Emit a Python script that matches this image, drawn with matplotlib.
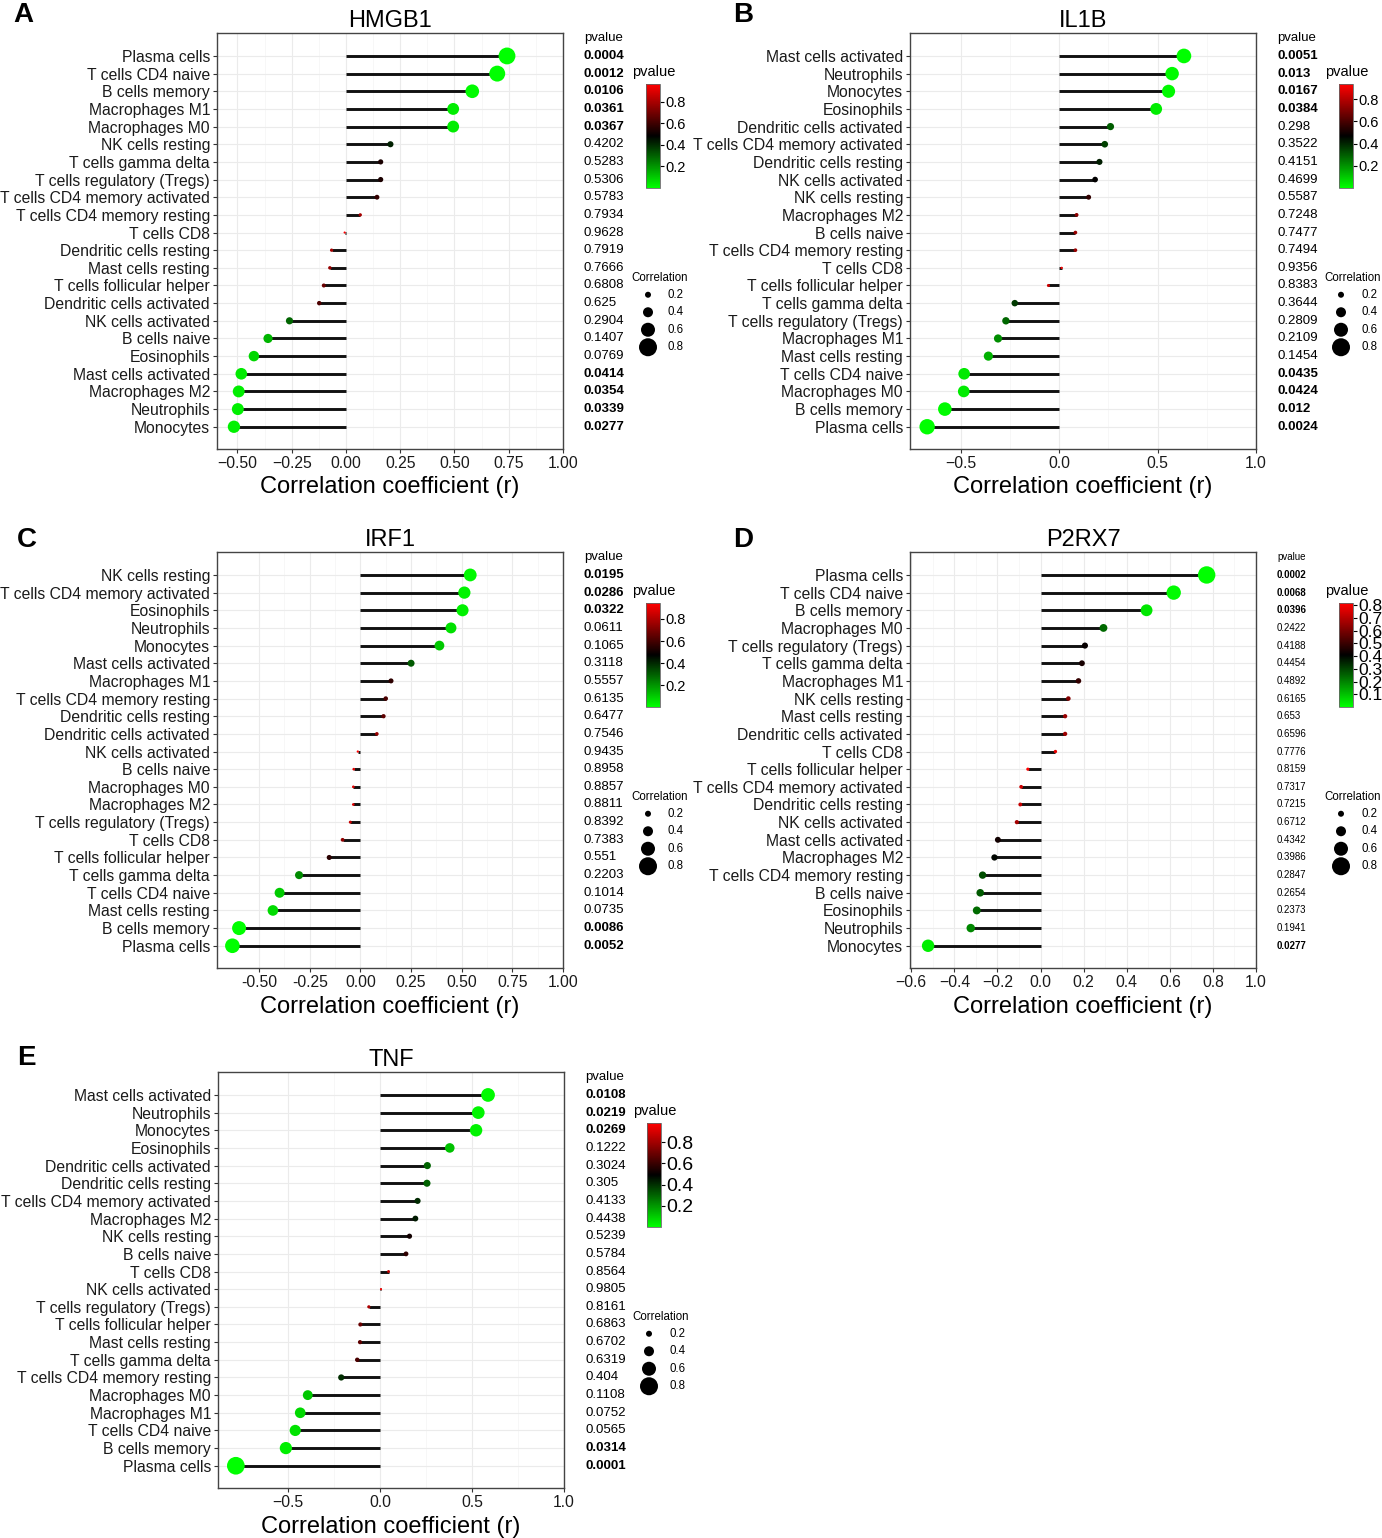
import numpy as np
import matplotlib
matplotlib.use("Agg")
import matplotlib.pyplot as plt
from matplotlib.colors import LinearSegmentedColormap, Normalize
from matplotlib.cm import ScalarMappable
from matplotlib.transforms import blended_transform_factory

plt.rcParams['font.family'] = ['Liberation Sans', 'DejaVu Sans']

# ---- data (top row first) ----
cats_a = ["Plasma cells", "T cells CD4 naive", "B cells memory", "Macrophages M1", "Macrophages M0",
          "NK cells resting", "T cells gamma delta", "T cells regulatory (Tregs)",
          "T cells CD4 memory activated", "T cells CD4 memory resting", "T cells CD8",
          "Dendritic cells resting", "Mast cells resting", "T cells follicular helper",
          "Dendritic cells activated", "NK cells activated", "B cells naive", "Eosinophils",
          "Mast cells activated", "Macrophages M2", "Neutrophils", "Monocytes"]
r_a = [0.742, 0.697, 0.582, 0.494, 0.494, 0.205, 0.160, 0.160, 0.143, 0.066, -0.006,
       -0.066, -0.074, -0.102, -0.123, -0.260, -0.359, -0.424, -0.482, -0.494, -0.498, -0.516]
p_a = ["0.0004", "0.0012", "0.0106", "0.0361", "0.0367", "0.4202", "0.5283", "0.5306", "0.5783",
       "0.7934", "0.9628", "0.7919", "0.7666", "0.6808", "0.625", "0.2904", "0.1407", "0.0769",
       "0.0414", "0.0354", "0.0339", "0.0277"]

cats_b = ["Mast cells activated", "Neutrophils", "Monocytes", "Eosinophils", "Dendritic cells activated",
          "T cells CD4 memory activated", "Dendritic cells resting", "NK cells activated",
          "NK cells resting", "Macrophages M2", "B cells naive", "T cells CD4 memory resting",
          "T cells CD8", "T cells follicular helper", "T cells gamma delta", "T cells regulatory (Tregs)",
          "Macrophages M1", "Mast cells resting", "T cells CD4 naive", "Macrophages M0",
          "B cells memory", "Plasma cells"]
r_b = [0.634, 0.574, 0.556, 0.493, 0.261, 0.232, 0.205, 0.183, 0.150, 0.089, 0.083, 0.083, 0.013,
       -0.054, -0.225, -0.270, -0.310, -0.359, -0.482, -0.484, -0.580, -0.670]
p_b = ["0.0051", "0.013", "0.0167", "0.0384", "0.298", "0.3522", "0.4151", "0.4699", "0.5587",
       "0.7248", "0.7477", "0.7494", "0.9356", "0.8383", "0.3644", "0.2809", "0.2109", "0.1454",
       "0.0435", "0.0424", "0.012", "0.0024"]

cats_c = ["NK cells resting", "T cells CD4 memory activated", "Eosinophils", "Neutrophils", "Monocytes",
          "Mast cells activated", "Macrophages M1", "T cells CD4 memory resting",
          "Dendritic cells resting", "Dendritic cells activated", "NK cells activated", "B cells naive",
          "Macrophages M0", "Macrophages M2", "T cells regulatory (Tregs)", "T cells CD8",
          "T cells follicular helper", "T cells gamma delta", "T cells CD4 naive",
          "Mast cells resting", "B cells memory", "Plasma cells"]
r_c = [0.542, 0.513, 0.504, 0.447, 0.390, 0.250, 0.151, 0.125, 0.114, 0.081, -0.013, -0.033,
       -0.035, -0.035, -0.050, -0.088, -0.154, -0.303, -0.399, -0.432, -0.599, -0.632]
p_c = ["0.0195", "0.0286", "0.0322", "0.0611", "0.1065", "0.3118", "0.5557", "0.6135", "0.6477",
       "0.7546", "0.9435", "0.8958", "0.8857", "0.8811", "0.8392", "0.7383", "0.551", "0.2203",
       "0.1014", "0.0735", "0.0086", "0.0052"]

cats_d = ["Plasma cells", "T cells CD4 naive", "B cells memory", "Macrophages M0",
          "T cells regulatory (Tregs)", "T cells gamma delta", "Macrophages M1", "NK cells resting",
          "Mast cells resting", "Dendritic cells activated", "T cells CD8", "T cells follicular helper",
          "T cells CD4 memory activated", "Dendritic cells resting", "NK cells activated",
          "Mast cells activated", "Macrophages M2", "T cells CD4 memory resting", "B cells naive",
          "Eosinophils", "Neutrophils", "Monocytes"]
r_d = [0.771, 0.618, 0.492, 0.292, 0.206, 0.192, 0.176, 0.129, 0.114, 0.114, 0.069, -0.059,
       -0.090, -0.094, -0.110, -0.198, -0.214, -0.269, -0.280, -0.296, -0.324, -0.522]
p_d = ["0.0002", "0.0068", "0.0396", "0.2422", "0.4188", "0.4454", "0.4892", "0.6165", "0.653",
       "0.6596", "0.7776", "0.8159", "0.7317", "0.7215", "0.6712", "0.4342", "0.3986", "0.2847",
       "0.2654", "0.2373", "0.1941", "0.0277"]

cats_e = ["Mast cells activated", "Neutrophils", "Monocytes", "Eosinophils", "Dendritic cells activated",
          "Dendritic cells resting", "T cells CD4 memory activated", "Macrophages M2",
          "NK cells resting", "B cells naive", "T cells CD8", "NK cells activated",
          "T cells regulatory (Tregs)", "T cells follicular helper", "Mast cells resting",
          "T cells gamma delta", "T cells CD4 memory resting", "Macrophages M0", "Macrophages M1",
          "T cells CD4 naive", "B cells memory", "Plasma cells"]
r_e = [0.587, 0.534, 0.522, 0.379, 0.257, 0.255, 0.204, 0.192, 0.160, 0.141, 0.046, 0.005,
       -0.061, -0.107, -0.109, -0.124, -0.211, -0.393, -0.434, -0.461, -0.512, -0.784]
p_e = ["0.0108", "0.0219", "0.0269", "0.1222", "0.3024", "0.305", "0.4133", "0.4438", "0.5239",
       "0.5784", "0.8564", "0.9805", "0.8161", "0.6863", "0.6702", "0.6319", "0.404", "0.1108",
       "0.0752", "0.0565", "0.0314", "0.0001"]

size_legend = [0.2, 0.4, 0.6, 0.8]

W, H = 1382, 1538
fig = plt.figure(figsize=(W / 100, H / 100), dpi=100)
cmap = LinearSegmentedColormap.from_list("pv", ["#00FF00", "#000000", "#FF0000"])


def rect(x0, y0, x1, y1):
    return [x0 / W, 1 - y1 / H, (x1 - x0) / W, (y1 - y0) / H]


def dot_size(v):
    d = 2 + 20 * abs(v)          # diameter in pixels
    return (d * 0.72) ** 2


def panel(cats, r, p, title, letter, letter_pos, ox, oy, xlim, ticks, ticklabels,
          cb_ticks, cb_fs=10.5, p_fs=9.5):
    n = len(cats)
    y = np.arange(n)[::-1]
    pv = np.array([float(s) for s in p])
    r = np.array(r)
    norm = Normalize(vmin=pv.min(), vmax=pv.max())

    ax = fig.add_axes(rect(ox, oy, ox + 346, oy + 416))
    ax.hlines(y, 0, r, color="#111111", lw=2.1, zorder=2)
    ax.scatter(r, y, s=[dot_size(v) for v in r], c=pv, cmap=cmap, norm=norm,
               zorder=3, linewidths=0)
    ax.set_xlim(*xlim)
    ax.set_ylim(-1.26, n + 0.3)
    ax.set_yticks(y)
    ax.set_yticklabels(cats, fontsize=11.3, color="#1a1a1a")
    ax.set_xticks(ticks)
    ax.set_xticklabels(ticklabels, fontsize=11.3, color="#1a1a1a")
    minor = [(a + b) / 2 for a, b in zip(ticks[:-1], ticks[1:])]
    ax.set_xticks(minor, minor=True)
    ax.tick_params(which="major", length=3, width=0.8, color="#333333", pad=2)
    ax.tick_params(which="minor", length=0)
    ax.grid(True, which="major", color="#ebebeb", lw=0.8, zorder=0)
    ax.grid(True, which="minor", axis="x", color="#f4f4f4", lw=0.5, zorder=0)
    ax.set_axisbelow(True)
    for sp in ax.spines.values():
        sp.set_color("#444444")
        sp.set_linewidth(1.0)
    ax.set_xlabel("Correlation coefficient (r)", fontsize=17, labelpad=4)
    ax.set_title(title, fontsize=17, pad=4)

    fig.text(letter_pos[0] / W, 1 - letter_pos[1] / H, letter, fontsize=20, fontweight="bold",
             ha="left", va="center")

    # p-value column
    tr = blended_transform_factory(fig.transFigure, ax.transData)
    px = (ox + 367) / W
    ax.text(px, n, "pvalue", transform=tr, fontsize=p_fs, ha="left", va="center", clip_on=False)
    for yi, s, v in zip(y, p, pv):
        ax.text(px, yi, s, transform=tr, fontsize=p_fs, ha="left", va="center",
                fontweight="bold" if v < 0.05 else "normal", clip_on=False)

    # colour bar
    fig.text((ox + 415) / W, 1 - (oy + 39) / H, "pvalue", fontsize=10.5, ha="left", va="center")
    cax = fig.add_axes(rect(ox + 429, oy + 51, ox + 443, oy + 155))
    cb = fig.colorbar(ScalarMappable(norm=norm, cmap=cmap), cax=cax)
    cb.set_ticks(cb_ticks)
    cb.ax.tick_params(labelsize=cb_fs, length=3, width=0.8, pad=1)
    cb.outline.set_edgecolor("#666666")
    cb.outline.set_linewidth(0.6)

    # size legend
    fig.text((ox + 414) / W, 1 - (oy + 245) / H, "Correlation", fontsize=8.3,
             ha="left", va="center")
    lax = fig.add_axes(rect(ox + 421, oy + 253, ox + 441, oy + 323))
    lax.set_xlim(0, 1)
    lax.set_ylim(3.5, -0.5)
    lax.axis("off")
    idx = np.arange(len(size_legend))
    lax.scatter(np.full(len(idx), 0.5), idx, s=[dot_size(v) for v in size_legend],
                color="black", linewidths=0, clip_on=False)
    for i, v in zip(idx, size_legend):
        lax.text(1.5, i, f"{v:.1f}", fontsize=8.3, ha="left", va="center")
    return ax


panel(cats_a, r_a, p_a, "HMGB1", "A", (13, 15), 217, 33, (-0.594, 1.0),
      [-0.5, -0.25, 0, 0.25, 0.5, 0.75, 1.0],
      ["\u22120.50", "\u22120.25", "0.00", "0.25", "0.50", "0.75", "1.00"],
      [0.2, 0.4, 0.6, 0.8])
panel(cats_b, r_b, p_b, "IL1B", "B", (733, 15), 910, 33, (-0.757, 1.0),
      [-0.5, 0, 0.5, 1.0], ["\u22120.5", "0.0", "0.5", "1.0"],
      [0.2, 0.4, 0.6, 0.8])
panel(cats_c, r_c, p_c, "IRF1", "C", (17, 540), 217, 552, (-0.708, 1.0),
      [-0.5, -0.25, 0, 0.25, 0.5, 0.75, 1.0],
      ["-0.50", "-0.25", "0.00", "0.25", "0.50", "0.75", "1.00"],
      [0.2, 0.4, 0.6, 0.8])
panel(cats_d, r_d, p_d, "P2RX7", "D", (733, 540), 910, 552, (-0.606, 1.0),
      [-0.6, -0.4, -0.2, 0, 0.2, 0.4, 0.6, 0.8, 1.0],
      ["\u22120.6", "\u22120.4", "\u22120.2", "0.0", "0.2", "0.4", "0.6", "0.8", "1.0"],
      [0.1, 0.2, 0.3, 0.4, 0.5, 0.6, 0.7, 0.8], cb_fs=12.5, p_fs=7)
panel(cats_e, r_e, p_e, "TNF", "E", (17, 1058), 218, 1072, (-0.881, 1.0),
      [-0.5, 0, 0.5, 1.0], ["\u22120.5", "0.0", "0.5", "1.0"],
      [0.2, 0.4, 0.6, 0.8], cb_fs=14)

fig.savefig("out.png", dpi=100)
